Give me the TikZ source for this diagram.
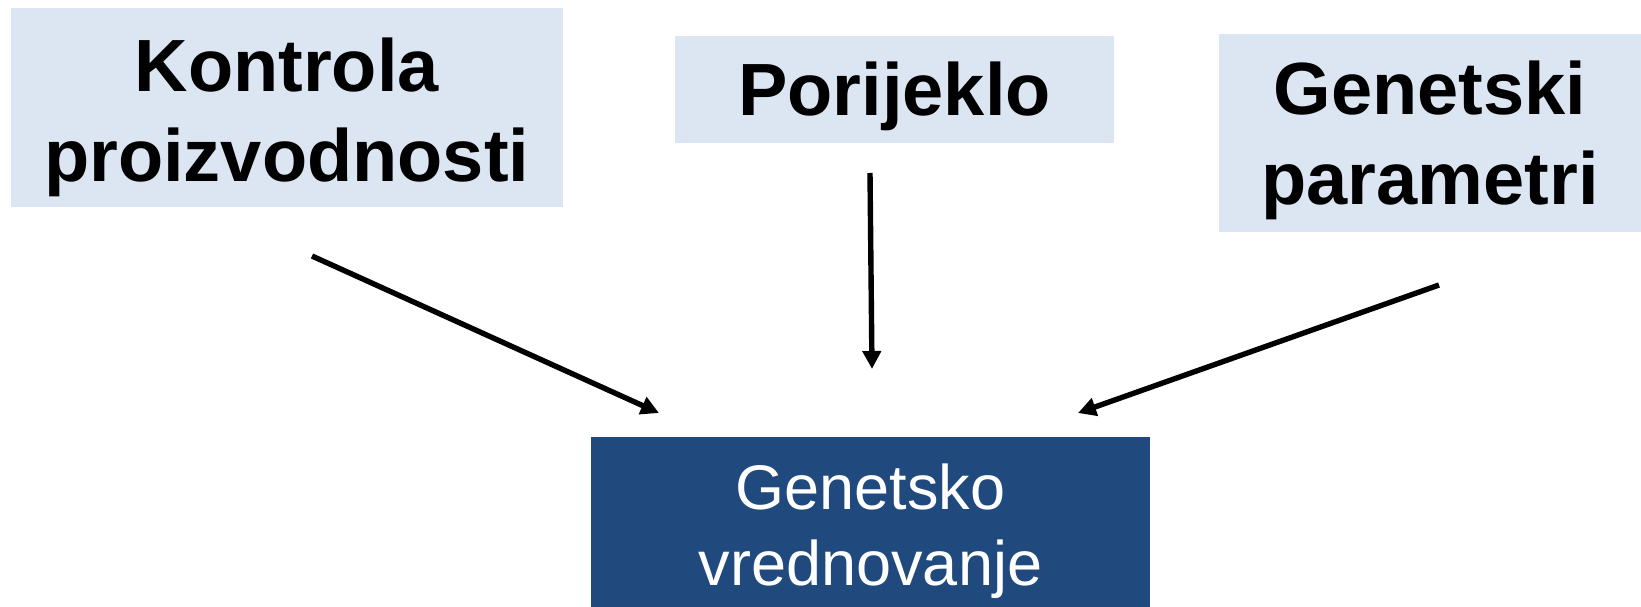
\documentclass[tikz,border=0pt]{standalone}
\usepackage{fontspec}
\setmainfont{Liberation Sans}
\usetikzlibrary{arrows.meta}
\definecolor{lightbox}{RGB}{220,230,242}
\definecolor{darkbox}{RGB}{32,74,126}
\tikzset{
  topbox/.style={fill=lightbox, inner sep=0pt},
  toptext/.style={inner sep=0pt, align=center, text=black,
    font=\fontsize{74}{90}\selectfont\bfseries},
  resultbox/.style={fill=darkbox, inner sep=0pt},
  resulttext/.style={inner sep=0pt, align=center, text=white,
    font=\fontsize{63}{76}\selectfont},
  conn/.style={line width=5.4pt, -{Triangle[length=18pt,width=18pt]}}
}
\begin{document}
\begin{tikzpicture}[x=1pt,y=-1pt]
\useasboundingbox (0,0) rectangle (1641,607);
\node[topbox, minimum width=552.5pt, minimum height=198.6pt] (kp) at (286.75,107.7) {};
\node[toptext] (kpt) at ([yshift=-10pt]kp.center) {Kontrola\\proizvodnosti};
\node[topbox, minimum width=439pt, minimum height=107.8pt] (po) at (894.5,89.5) {};
\node[toptext] (pot) at ([yshift=-7pt]po.center) {Porijeklo};
\node[topbox, minimum width=422pt, minimum height=198.5pt] (gp) at (1430,132.8) {};
\node[toptext] (gpt) at ([yshift=-8pt]gp.center) {Genetski\\parametri};
\node[resultbox, minimum width=559pt, minimum height=170pt] (gv) at (870.5,522) {};
\node[resulttext] (gvt) at ([yshift=-9pt]gv.center) {Genetsko\\vrednovanje};
\coordinate (a1s) at (312,256);
\coordinate (a1e) at (659,413);
\coordinate (a2s) at (870,173);
\coordinate (a2e) at (872,369);
\coordinate (a3s) at (1439,285);
\coordinate (a3e) at (1078,413);
\draw[conn] (a1s) -- (a1e);
\draw[conn] (a2s) -- (a2e);
\draw[conn] (a3s) -- (a3e);
\end{tikzpicture}
\end{document}
